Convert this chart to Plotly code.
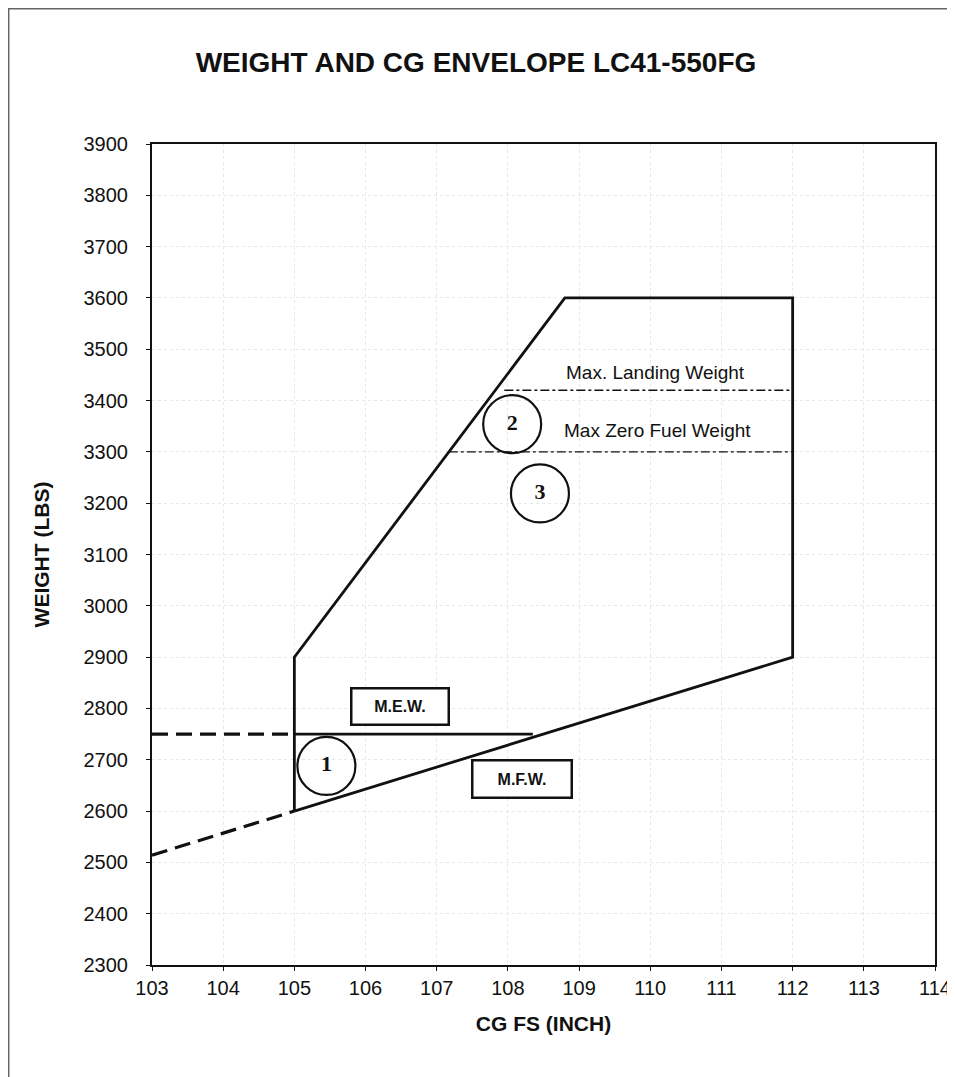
import plotly.graph_objects as go

# ---- data ----
env_x = [105, 105, 108.8, 112, 112, 105]
env_y = [2600, 2900, 3600, 3600, 2900, 2600]

mew_x = [105, 108.35]
mew_y = [2750, 2750]

mew_ext_x = [103, 105]
mew_ext_y = [2750, 2750]

low_ext_x = [103, 105]
low_ext_y = [2514, 2600]

mlw_x = [107.95, 112]
mlw_y = [3420, 3420]

mzfw_x = [107.17, 112]
mzfw_y = [3300, 3300]

circle_x = [105.45, 108.06, 108.45]
circle_y = [2688, 3354, 3219]
circle_txt = ["1", "2", "3"]

x_ticks = list(range(103, 115))
y_ticks = list(range(2300, 4000, 100))

fig = go.Figure()

blk = "#111111"
fig.add_trace(go.Scatter(x=env_x, y=env_y, mode="lines",
                         line=dict(color=blk, width=2.8), hoverinfo="skip"))
fig.add_trace(go.Scatter(x=mew_x, y=mew_y, mode="lines",
                         line=dict(color=blk, width=2.8), hoverinfo="skip"))
fig.add_trace(go.Scatter(x=mew_ext_x, y=mew_ext_y, mode="lines",
                         line=dict(color=blk, width=3.2, dash="16px,8px"), hoverinfo="skip"))
fig.add_trace(go.Scatter(x=low_ext_x, y=low_ext_y, mode="lines",
                         line=dict(color=blk, width=3.2, dash="16px,8px"), hoverinfo="skip"))
fig.add_trace(go.Scatter(x=mlw_x, y=mlw_y, mode="lines",
                         line=dict(color=blk, width=1.4, dash="dashdot"), hoverinfo="skip"))
fig.add_trace(go.Scatter(x=mzfw_x, y=mzfw_y, mode="lines",
                         line=dict(color=blk, width=1.4, dash="dashdot"), hoverinfo="skip"))
fig.add_trace(go.Scatter(x=circle_x, y=circle_y, mode="markers+text",
                         text=["<b>%s</b>" % t for t in circle_txt],
                         textposition="middle center",
                         textfont=dict(family="Liberation Serif", size=22, color=blk),
                         marker=dict(symbol="circle-open", size=58,
                                     line=dict(color=blk, width=2.2), color=blk),
                         hoverinfo="skip"))

fig.add_annotation(x=106.48, y=2803, text="<b>M.E.W.</b>", showarrow=False,
                   font=dict(family="Arial", size=16, color=blk),
                   bordercolor=blk, borderwidth=2.5, width=93, height=32,
                   bgcolor="white")
fig.add_annotation(x=108.2, y=2663, text="<b>M.F.W.</b>", showarrow=False,
                   font=dict(family="Arial", size=16, color=blk),
                   bordercolor=blk, borderwidth=2.5, width=95, height=33,
                   bgcolor="white")
fig.add_annotation(x=110.07, y=3455, text="Max. Landing Weight", showarrow=False,
                   font=dict(family="Arial", size=19, color=blk))
fig.add_annotation(x=110.1, y=3342, text="Max Zero Fuel Weight", showarrow=False,
                   font=dict(family="Arial", size=19, color=blk))

# outer frame of the scanned page
fig.add_shape(type="rect", xref="paper", yref="paper",
              x0=-0.183, x1=1.2, y0=-0.2, y1=1.1647,
              line=dict(color="#666666", width=1.5), layer="below")

axis_common = dict(showline=True, linecolor=blk, linewidth=2.2, mirror=True,
                   ticks="outside", ticklen=4, tickcolor=blk,
                   showgrid=True, gridcolor="#e8e8e8", griddash="dot", gridwidth=1,
                   zeroline=False,
                   tickfont=dict(family="Arial", size=20, color=blk))

fig.update_xaxes(range=[103, 114], tickvals=x_ticks, ticklabelstandoff=0,
                 title=dict(text="<b>CG FS (INCH)</b>", standoff=18,
                            font=dict(family="Arial", size=21, color=blk)),
                 **axis_common)
fig.update_yaxes(range=[2300, 3900], tickvals=y_ticks, ticklabelstandoff=14,
                 title=dict(text="<b>WEIGHT (LBS)</b>", standoff=28,
                            font=dict(family="Arial", size=21, color=blk)),
                 **axis_common)

fig.update_layout(
    width=955, height=1077,
    margin=dict(l=144, r=28, t=136, b=120),
    paper_bgcolor="white", plot_bgcolor="white",
    showlegend=False,
    title=dict(text="<b>WEIGHT AND CG ENVELOPE LC41-550FG</b>",
               x=(476 - 8) / 955, xref="container", xanchor="center",
               y=1 - 54 / 1077, yref="container", yanchor="middle",
               font=dict(family="Arial", size=28, color=blk)),
)

fig.write_html("out.html")
